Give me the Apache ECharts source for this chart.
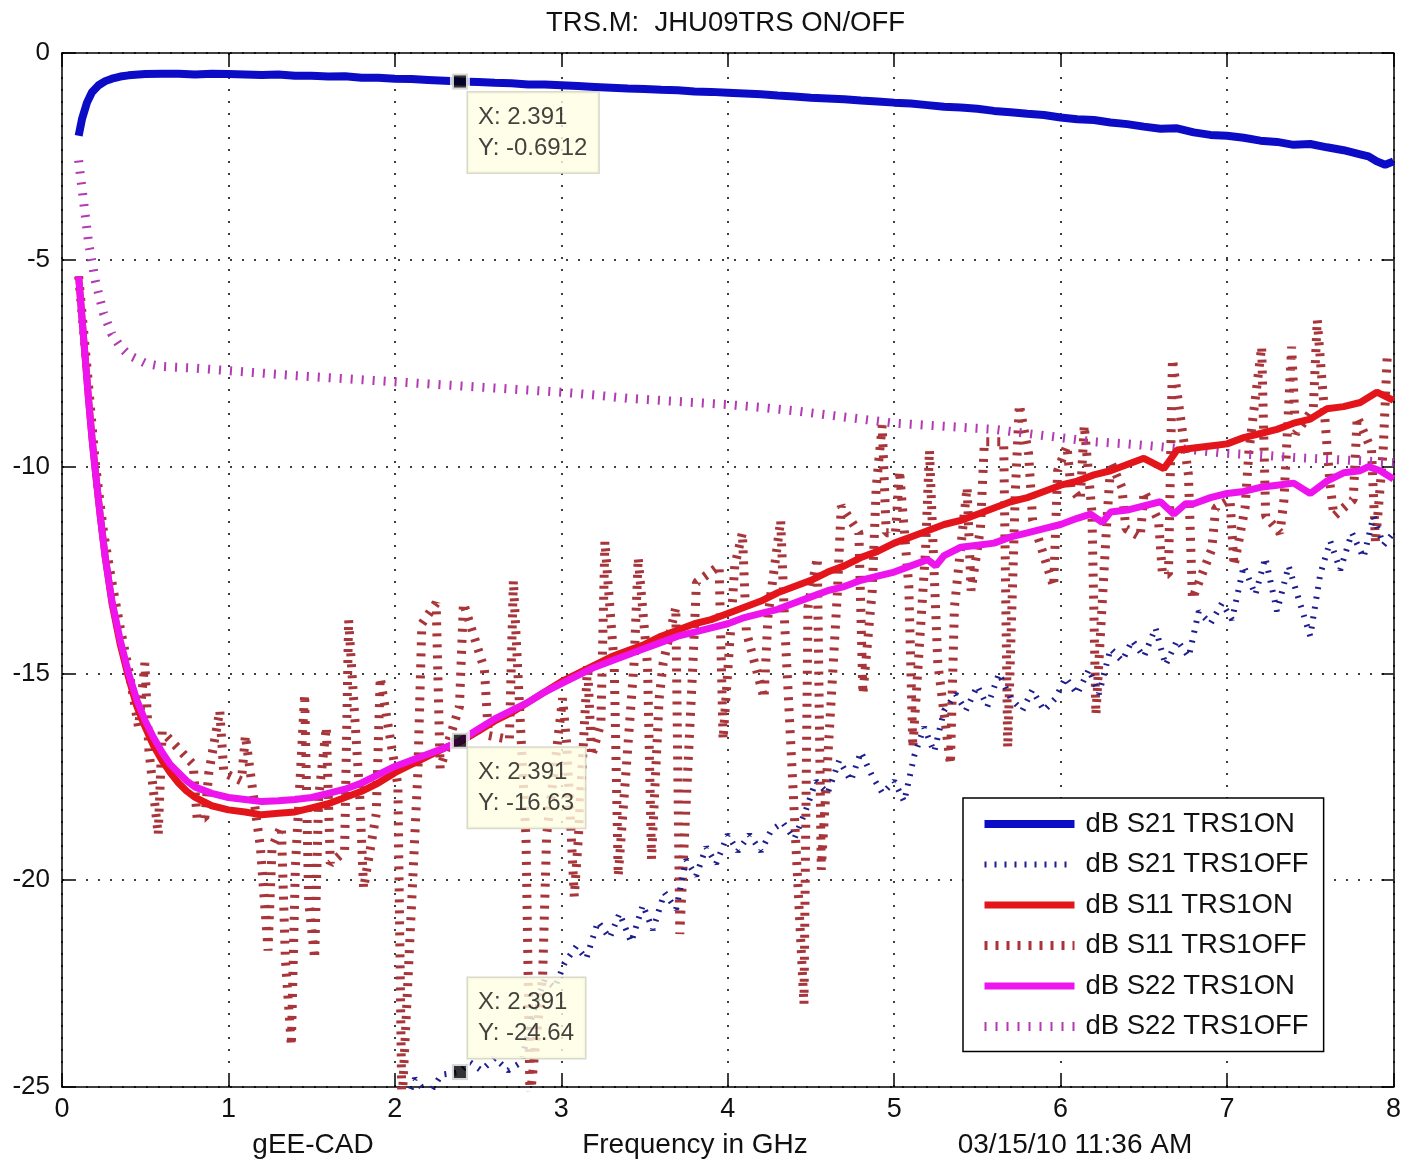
<!DOCTYPE html>
<html>
<head>
<meta charset="utf-8">
<script src="https://cdn.jsdelivr.net/npm/echarts@6/dist/echarts.min.js"></script>
<style>
  html, body { margin: 0; padding: 0; background: #fff; }
  #chart { width: 1404px; height: 1165px; }
</style>
</head>
<body>
<div id="chart"></div>
<script>
// ---------------- DATA ----------------
const chartTitle = 'TRS.M:  JHU09TRS ON/OFF';
const xTicks = [0, 1, 2, 3, 4, 5, 6, 7, 8];
const yTicks = [-25, -20, -15, -10, -5, 0];
const seriesNames = ['dB S21 TRS1ON', 'dB S21 TRS1OFF', 'dB S11 TRS1ON', 'dB S11 TRS1OFF', 'dB S22 TRS1ON', 'dB S22 TRS1OFF'];

// dB S21 TRS1ON
const s21onX = [0.10,0.12,0.15,0.18,0.22,0.26,0.30,0.35,0.40,0.50,0.60,0.70,0.80,0.90,1.00,1.10,1.20,1.30,1.40,1.50,1.60,1.70,1.80,1.90,2.00,2.10,2.20,2.30,2.391,2.50,2.60,2.70,2.80,2.90,3.00,3.10,3.20,3.30,3.40,3.50,3.60,3.70,3.80,3.90,4.00,4.10,4.20,4.30,4.40,4.50,4.60,4.70,4.80,4.90,5.00,5.10,5.20,5.30,5.40,5.50,5.60,5.70,5.80,5.90,6.00,6.10,6.20,6.30,6.40,6.50,6.60,6.70,6.80,6.90,7.00,7.10,7.20,7.30,7.40,7.50,7.60,7.70,7.80,7.85,7.90,7.95,8.00];
const s21onY = [-2.0,-1.6,-1.2,-0.95,-0.78,-0.68,-0.62,-0.57,-0.54,-0.51,-0.5,-0.5,-0.52,-0.5,-0.51,-0.52,-0.53,-0.52,-0.55,-0.55,-0.57,-0.56,-0.6,-0.6,-0.62,-0.63,-0.65,-0.67,-0.6912,-0.7,-0.72,-0.73,-0.76,-0.76,-0.78,-0.8,-0.82,-0.84,-0.86,-0.87,-0.89,-0.9,-0.93,-0.94,-0.96,-0.98,-1.0,-1.03,-1.05,-1.08,-1.1,-1.12,-1.15,-1.17,-1.2,-1.22,-1.26,-1.3,-1.32,-1.35,-1.4,-1.43,-1.47,-1.5,-1.56,-1.6,-1.62,-1.68,-1.72,-1.78,-1.83,-1.82,-1.92,-1.98,-2.0,-2.05,-2.12,-2.15,-2.22,-2.2,-2.28,-2.35,-2.45,-2.5,-2.62,-2.7,-2.62];

// dB S21 TRS1OFF
const s21offX = [2.05,2.12,2.20,2.28,2.391,2.45,2.52,2.60,2.68,2.76,2.83,2.90,2.96,3.02,3.09,3.15,3.22,3.29,3.35,3.42,3.49,3.55,3.62,3.69,3.75,3.81,3.87,3.93,4.00,4.06,4.13,4.20,4.26,4.33,4.40,4.47,4.53,4.60,4.67,4.74,4.80,4.87,4.93,5.00,5.06,5.12,5.18,5.24,5.30,5.37,5.43,5.50,5.56,5.63,5.70,5.77,5.83,5.90,5.97,6.03,6.10,6.17,6.23,6.30,6.37,6.43,6.50,6.57,6.63,6.70,6.77,6.83,6.90,6.97,7.03,7.10,7.17,7.23,7.30,7.37,7.43,7.50,7.56,7.62,7.68,7.75,7.82,7.88,7.94,8.00];
const s21offY = [-25.5,-24.8,-25.2,-24.7,-24.64,-24.4,-24.6,-24.3,-24.6,-24.4,-23.2,-22.4,-22.6,-22.0,-21.6,-21.9,-21.0,-21.4,-20.8,-21.5,-20.6,-21.2,-20.3,-20.7,-19.5,-19.9,-19.2,-19.6,-18.9,-19.3,-18.9,-19.3,-18.8,-18.6,-19.0,-18.3,-17.6,-17.9,-17.1,-17.6,-16.9,-17.5,-17.9,-17.6,-18.1,-17.0,-16.3,-16.9,-15.9,-15.5,-15.9,-15.3,-15.8,-15.0,-15.6,-15.9,-15.4,-15.9,-15.6,-15.1,-15.5,-14.9,-15.5,-14.4,-14.7,-14.2,-14.6,-13.9,-14.8,-14.2,-14.6,-13.5,-13.8,-13.3,-13.7,-12.4,-13.1,-12.2,-13.5,-12.4,-13.2,-14.1,-12.6,-11.8,-12.5,-11.6,-12.2,-11.2,-11.9,-11.6];

// dB S11 TRS1ON
const s11onX = [0.10,0.12,0.14,0.16,0.18,0.20,0.23,0.26,0.30,0.35,0.40,0.45,0.50,0.55,0.60,0.65,0.70,0.75,0.80,0.90,1.00,1.10,1.20,1.30,1.40,1.50,1.60,1.70,1.80,1.90,2.00,2.10,2.20,2.30,2.391,2.50,2.60,2.70,2.80,2.90,3.00,3.10,3.20,3.30,3.40,3.50,3.60,3.70,3.80,3.90,4.00,4.10,4.20,4.30,4.40,4.50,4.60,4.70,4.80,4.90,5.00,5.10,5.20,5.30,5.40,5.50,5.60,5.70,5.80,5.90,6.00,6.10,6.20,6.30,6.40,6.50,6.62,6.70,6.80,6.90,7.00,7.10,7.20,7.30,7.40,7.50,7.60,7.70,7.80,7.90,8.00];
const s11onY = [-5.4,-6.4,-7.4,-8.4,-9.3,-10.1,-11.2,-12.2,-13.3,-14.3,-15.1,-15.8,-16.3,-16.75,-17.1,-17.4,-17.65,-17.85,-18.0,-18.2,-18.3,-18.35,-18.42,-18.38,-18.35,-18.25,-18.15,-18.0,-17.85,-17.65,-17.4,-17.2,-17.0,-16.8,-16.66,-16.4,-16.15,-15.95,-15.7,-15.45,-15.2,-15.0,-14.8,-14.6,-14.45,-14.3,-14.1,-13.95,-13.8,-13.7,-13.55,-13.4,-13.25,-13.05,-12.9,-12.75,-12.55,-12.4,-12.2,-12.05,-11.85,-11.7,-11.55,-11.4,-11.3,-11.15,-11.0,-10.85,-10.75,-10.6,-10.45,-10.35,-10.2,-10.1,-9.95,-9.8,-10.05,-9.6,-9.55,-9.5,-9.45,-9.3,-9.2,-9.1,-8.95,-8.85,-8.6,-8.55,-8.45,-8.2,-8.4];

// dB S11 TRS1OFF : lead-in, then oscillation columns (x, upper, lower)
const s11offLeadX = [0.10,0.15,0.20,0.25,0.30,0.35,0.40,0.46];
const s11offLeadY = [-5.4,-7.6,-9.9,-11.6,-12.8,-13.9,-14.9,-16.3];
const s11offColX = [0.51,0.59,0.80,0.87,0.96,1.09,1.18,1.25,1.33,1.39,1.47,1.53,1.60,1.71,1.80,1.90,2.03,2.15,2.26,2.40,2.55,2.70,2.80,2.90,3.02,3.09,3.17,3.25,3.33,3.45,3.53,3.60,3.70,3.80,3.96,4.03,4.10,4.23,4.33,4.47,4.55,4.67,4.80,4.88,4.94,5.02,5.10,5.20,5.25,5.35,5.45,5.53,5.67,5.74,5.82,5.97,6.05,6.13,6.20,6.29,6.38,6.49,6.60,6.66,6.78,6.92,7.03,7.12,7.22,7.33,7.40,7.53,7.63,7.77,7.88,7.95];
const s11offColTop = [-14.75,-16.4,-17.2,-17.4,-15.9,-16.5,-18.5,-19.2,-18.7,-19.7,-15.5,-18.0,-16.3,-13.7,-17.9,-15.1,-17.7,-13.8,-13.3,-13.3,-14.9,-12.75,-19.0,-18.9,-15.6,-19.0,-14.8,-11.8,-14.8,-12.2,-14.8,-14.75,-13.4,-12.8,-12.4,-12.4,-11.6,-13.6,-11.3,-13.4,-12.2,-10.95,-11.6,-10.5,-9.0,-10.1,-12.9,-9.6,-12.35,-13.4,-10.5,-9.4,-9.4,-8.5,-9.7,-10.1,-9.5,-9.0,-11.1,-9.9,-10.5,-10.6,-11.3,-7.4,-10.2,-11.0,-10.8,-9.6,-7.1,-10.8,-7.1,-6.45,-10.4,-8.8,-9.6,-7.35];
const s11offColBot = [-16.85,-18.9,-18.5,-18.5,-17.4,-17.6,-19.2,-21.7,-21.9,-24.0,-20.5,-21.9,-19.6,-19.3,-20.2,-18.4,-25.5,-17.4,-17.3,-15.8,-16.5,-16.6,-25.3,-22.3,-16.7,-20.4,-17.0,-16.2,-19.9,-14.7,-19.5,-15.6,-21.3,-15.0,-16.6,-13.9,-14.0,-15.6,-13.8,-23.0,-19.75,-13.1,-15.5,-13.0,-11.6,-11.6,-16.8,-12.05,-14.75,-17.2,-13.0,-11.5,-16.8,-10.6,-11.3,-12.9,-10.5,-10.8,-16.0,-11.3,-11.5,-11.7,-12.6,-12.6,-13.2,-12.0,-12.4,-11.0,-11.2,-11.6,-9.2,-8.6,-11.2,-10.8,-11.85,-9.6];

// dB S22 TRS1ON
const s22onX = [0.10,0.12,0.14,0.16,0.18,0.20,0.23,0.26,0.30,0.35,0.40,0.45,0.50,0.55,0.60,0.65,0.70,0.75,0.80,0.90,1.00,1.10,1.20,1.30,1.40,1.50,1.60,1.70,1.80,1.90,2.00,2.10,2.20,2.30,2.391,2.50,2.60,2.70,2.80,2.90,3.00,3.10,3.20,3.30,3.40,3.50,3.60,3.70,3.80,3.90,4.00,4.10,4.20,4.30,4.40,4.50,4.60,4.70,4.80,4.90,5.00,5.10,5.20,5.25,5.30,5.40,5.50,5.60,5.70,5.80,5.90,6.00,6.10,6.18,6.25,6.30,6.40,6.50,6.60,6.68,6.75,6.80,6.90,7.00,7.10,7.20,7.30,7.40,7.50,7.60,7.70,7.80,7.85,7.92,8.00];
const s22onY = [-5.4,-6.4,-7.4,-8.4,-9.3,-10.1,-11.2,-12.2,-13.25,-14.2,-15.0,-15.65,-16.15,-16.55,-16.9,-17.2,-17.4,-17.6,-17.75,-17.9,-18.0,-18.05,-18.1,-18.08,-18.05,-18.0,-17.9,-17.8,-17.65,-17.45,-17.25,-17.1,-16.95,-16.8,-16.63,-16.35,-16.1,-15.9,-15.7,-15.45,-15.25,-15.05,-14.85,-14.7,-14.55,-14.4,-14.25,-14.1,-14.0,-13.9,-13.8,-13.65,-13.55,-13.45,-13.3,-13.15,-13.0,-12.9,-12.75,-12.65,-12.55,-12.4,-12.25,-12.4,-12.15,-11.95,-11.9,-11.85,-11.7,-11.6,-11.5,-11.4,-11.25,-11.15,-11.35,-11.1,-11.05,-10.95,-10.85,-11.15,-10.9,-10.9,-10.75,-10.65,-10.6,-10.5,-10.45,-10.4,-10.65,-10.35,-10.15,-10.1,-10.0,-10.1,-10.3];

// dB S22 TRS1OFF
const s22offX = [0.10,0.13,0.16,0.20,0.25,0.30,0.35,0.40,0.50,0.60,0.80,1.00,1.20,1.40,1.60,1.80,2.00,2.20,2.40,2.60,2.80,3.00,3.20,3.40,3.60,3.80,4.00,4.20,4.40,4.60,4.80,5.00,5.20,5.40,5.60,5.80,6.00,6.20,6.40,6.60,6.80,7.00,7.20,7.40,7.60,7.80,8.00];
const s22offY = [-2.6,-3.6,-4.6,-5.5,-6.3,-6.8,-7.1,-7.3,-7.5,-7.58,-7.62,-7.68,-7.74,-7.8,-7.85,-7.9,-7.95,-8.0,-8.05,-8.1,-8.15,-8.2,-8.27,-8.35,-8.4,-8.45,-8.5,-8.57,-8.65,-8.75,-8.85,-8.95,-9.0,-9.05,-9.1,-9.2,-9.3,-9.4,-9.45,-9.52,-9.6,-9.68,-9.72,-9.78,-9.82,-9.86,-9.9];

// Data tips
const tipX = [2.391, 2.391, 2.391];
const tipY = [-0.6912, -16.63, -24.64];
const tipText = [['2.391', '-0.6912'], ['2.391', '-16.63'], ['2.391', '-24.64']];

// Footer texts
const footLeft = 'gEE-CAD';
const footMid = 'Frequency in GHz';
const footRight = '03/15/10 11:36 AM';

// ---------------- BUILD ----------------
const FONT = "'Liberation Sans', Arial, Helvetica, sans-serif";
const zip = (xs, ys) => xs.map((x, i) => [x, ys[i]]);

const s11offData = zip(s11offLeadX, s11offLeadY);
s11offColX.forEach((x, i) => {
  const a = (i % 2 === 0) ? s11offColTop[i] : s11offColBot[i];
  const b = (i % 2 === 0) ? s11offColBot[i] : s11offColTop[i];
  s11offData.push([x - 0.012, a]);
  s11offData.push([x + 0.012, b]);
});

const tipLabelPos = [[18, 21], [18, 17], [18, -84]];

const chart = echarts.init(document.getElementById('chart'), null, { renderer: 'canvas' });

const gridLine = { show: true, lineStyle: { color: '#000', width: 1.5, type: [2, 10] } };
const axisLineStyle = { show: true, onZero: false, lineStyle: { color: '#000', width: 1.5 } };
const tickStyle = { show: true, inside: true, length: 12, lineStyle: { color: '#000', width: 1.5 } };

function lineSeries(name, data, color, width, dash, z) {
  return {
    name, type: 'line', data,
    showSymbol: false, symbol: 'none',
    clip: true, z: z,
    lineStyle: { color, width, type: dash || 'solid', cap: 'butt' },
    itemStyle: { color },
    emphasis: { disabled: true },
    animation: false
  };
}

const option = {
  backgroundColor: '#fff',
  animation: false,
  title: {
    text: chartTitle, left: 541, top: 4,
    textStyle: { fontFamily: FONT, fontSize: 27.5, fontWeight: 'normal', color: '#111' }
  },
  grid: { left: 62, top: 53, right: 10, bottom: 78, containLabel: false, show: false },
  legend: {
    orient: 'vertical', left: 963, top: 798,
    data: seriesNames,
    itemWidth: 90, itemHeight: 14, itemGap: 10.5,
    padding: [11, 15, 10, 17],
    backgroundColor: '#fff', borderColor: '#000', borderWidth: 1.5, borderRadius: 0,
    lineStyle: { width: 'inherit' },
    itemStyle: { opacity: 0, borderWidth: 0 },
    textStyle: { fontFamily: FONT, fontSize: 27.5, color: '#111', lineHeight: 30, padding: [0, 0, 0, 6] },
    selectedMode: false
  },
  xAxis: [
    {
      type: 'value', min: xTicks[0], max: xTicks[xTicks.length - 1], interval: 1,
      position: 'bottom',
      axisLine: axisLineStyle, axisTick: tickStyle,
      axisLabel: { fontFamily: FONT, fontSize: 27, color: '#111', margin: 9 },
      splitLine: gridLine
    },
    {
      type: 'value', min: xTicks[0], max: xTicks[xTicks.length - 1], interval: 1,
      position: 'top',
      axisLine: axisLineStyle, axisTick: tickStyle,
      axisLabel: { show: false }, splitLine: { show: false }
    }
  ],
  yAxis: [
    {
      type: 'value', min: yTicks[0], max: yTicks[yTicks.length - 1], interval: 5,
      position: 'left',
      axisLine: axisLineStyle, axisTick: tickStyle,
      axisLabel: { fontFamily: FONT, fontSize: 26, color: '#111', margin: 12 },
      splitLine: gridLine
    },
    {
      type: 'value', min: yTicks[0], max: yTicks[yTicks.length - 1], interval: 5,
      position: 'right',
      axisLine: axisLineStyle, axisTick: tickStyle,
      axisLabel: { show: false }, splitLine: { show: false }
    }
  ],
  series: [
    lineSeries(seriesNames[0], zip(s21onX, s21onY), '#0c0cc6', 8, null, 6),
    lineSeries(seriesNames[1], zip(s21offX, s21offY), '#1e1e8e', 6, [2, 8], 3),
    lineSeries(seriesNames[2], zip(s11onX, s11onY), '#e3151b', 7, null, 5),
    lineSeries(seriesNames[3], s11offData, '#a8353a', 9, [3, 8], 2),
    lineSeries(seriesNames[4], zip(s22onX, s22onY), '#ee14ee', 7, null, 5),
    lineSeries(seriesNames[5], zip(s22offX, s22offY), '#b23ab2', 9, [2, 9], 2),
    {
      name: 'datatip', type: 'scatter', z: 20, clip: false, animation: false,
      symbol: 'rect', symbolSize: 16,
      itemStyle: { color: '#000', borderColor: '#fff', borderWidth: 4 },
      emphasis: { disabled: true },
      data: tipX.map((x, i) => ({
        value: [x, tipY[i]],
        label: {
          show: true, position: tipLabelPos[i], align: 'left', verticalAlign: 'top',
          formatter: 'X: ' + tipText[i][0] + '\nY: ' + tipText[i][1],
          fontFamily: FONT, fontSize: 24, color: '#111', lineHeight: 31,
          backgroundColor: '#ffffe3', borderColor: '#cfcfbf', borderWidth: 1.5,
          padding: [9, 11, 9, 10]
        }
      }))
    }
  ],
  graphic: [
    { type: 'text', x: 313, y: 1145, style: { text: footLeft, font: '28px ' + FONT, fill: '#111', align: 'center', verticalAlign: 'middle' } },
    { type: 'text', x: 695, y: 1145, style: { text: footMid, font: '28px ' + FONT, fill: '#111', align: 'center', verticalAlign: 'middle' } },
    { type: 'text', x: 1075, y: 1145, style: { text: footRight, font: '28px ' + FONT, fill: '#111', align: 'center', verticalAlign: 'middle' } }
  ]
};

chart.setOption(option);
</script>
</body>
</html>
